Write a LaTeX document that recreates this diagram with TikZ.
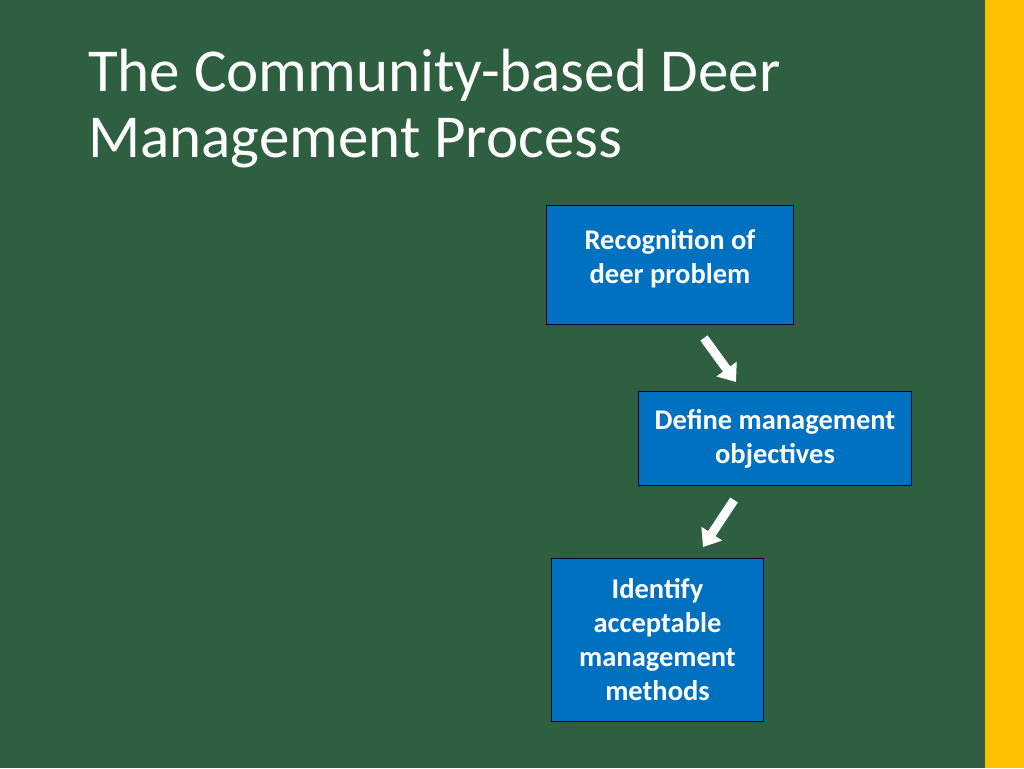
\documentclass[tikz,border=0pt]{standalone}
\usepackage{fontspec}
\setmainfont{Carlito}
\usetikzlibrary{arrows.meta}
\definecolor{bg}{HTML}{2E5F40}
\definecolor{bar}{HTML}{FFC000}
\definecolor{boxc}{HTML}{0070C0}
\begin{document}
\begin{tikzpicture}[x=1pt,y=-1pt,
  stepbox/.style={draw=black!80!blue,line width=1pt,fill=boxc,text=white,font=\fontsize{28.5}{34}\selectfont\bfseries,align=center,inner sep=0pt},
  blockarrow/.style={draw=white,line width=9pt,-{Triangle[width=24pt,length=16pt]}}]
\useasboundingbox (0,0) rectangle (1024,768);
\fill[bg] (0,0) rectangle (1024,768);
\fill[bar] (985,0) rectangle (1024,768);
\node[anchor=base west,text=white,font=\fontsize{61}{66}\selectfont,align=left,inner sep=0pt] (title) at (88,157) {The Community-based Deer\\Management Process};
\node[stepbox,minimum width=247,minimum height=119,anchor=north west] (b1) at (546,205) {};
\node[text=white,font=\fontsize{28.5}{34}\selectfont\bfseries,align=center,anchor=north,inner sep=0pt] (t1) at (b1.north) [yshift=-24] {Recognition of\\deer problem};
\node[stepbox,minimum width=273,minimum height=94,anchor=north west] (b2) at (638,391) {Define management\\objectives};
\node[stepbox,minimum width=212,minimum height=163,anchor=north west] (b3) at (551,558) {Identify\\acceptable\\management\\methods};
\coordinate (a1s) at (704,338);
\coordinate (a1e) at (736,382);
\coordinate (a2s) at (734,500);
\coordinate (a2e) at (703,547);
\draw[blockarrow] (a1s) -- (a1e);
\draw[blockarrow] (a2s) -- (a2e);
\end{tikzpicture}
\end{document}
